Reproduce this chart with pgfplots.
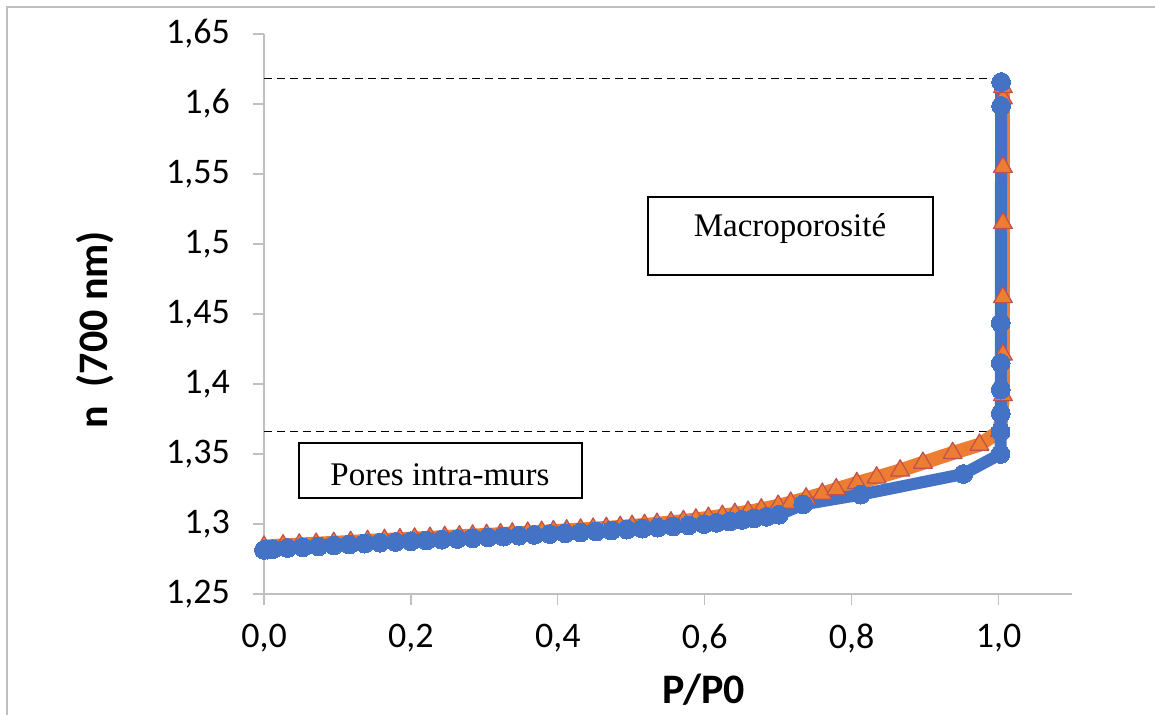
\documentclass[border=0pt]{standalone}
\usepackage{pgfplots}
\pgfplotsset{compat=1.18}
\usepackage{fontspec}
\setmainfont{Carlito}
\newfontfamily\boxfont{Liberation Serif}

\definecolor{serA}{HTML}{4472C4}
\definecolor{serB}{HTML}{ED7D31}
\definecolor{serBedge}{HTML}{C0504D}
\definecolor{axgray}{HTML}{BFBFBF}

\begin{document}
\begin{tikzpicture}
% page = 1155 x 715 px, 1 px = 0.5pt
\path[use as bounding box] (0,0) rectangle (577.5pt,-357.5pt);
\draw[axgray, line width=0.6pt] (3.5pt,-360pt) -- (3.5pt,-3.5pt) -- (580pt,-3.5pt);

\begin{axis}[
    at={(132pt,-297pt)}, anchor=south west,
    scale only axis, width=404pt, height=280pt,
    xmin=0, xmax=1.1, ymin=1.25, ymax=1.65,
    axis x line*=bottom, axis y line*=left,
    axis line style={draw=axgray, line width=0.6pt, -},
    xtick={0,0.2,0.4,0.6,0.8,1.0},
    ytick={1.25,1.3,1.35,1.4,1.45,1.5,1.55,1.6,1.65},
    tick align=outside, major tick length=5.5pt,
    tick style={draw=axgray, line width=0.6pt},
    tick label style={font=\fontsize{18}{20}\selectfont},
    /pgf/number format/assume math mode=true,
    /pgf/number format/use comma,
    xticklabel style={/pgf/number format/fixed, /pgf/number format/fixed zerofill, /pgf/number format/precision=1, yshift=-6pt},
    yticklabel style={/pgf/number format/fixed, /pgf/number format/precision=2, xshift=-8pt},
    clip=false,
]
% guide lines
\addplot[black, line width=0.5pt, dash pattern=on 4pt off 2.5pt] coordinates {(0,1.6179) (1.0,1.6179)};
\addplot[black, line width=0.5pt, dash pattern=on 4pt off 2.5pt] coordinates {(0,1.3664) (1.004,1.3664)};

% adsorption (orange, triangles)
\addplot[serB, line width=7pt, line join=round,
    mark=triangle*, mark size=5.4pt,
    mark options={fill=serB, draw=serBedge, line width=0.6pt}] coordinates {
(0.000,1.2838) (0.026,1.2847) (0.048,1.2853) (0.071,1.2859) (0.095,1.2865)
(0.118,1.2872) (0.141,1.2879) (0.164,1.2886) (0.185,1.2891) (0.205,1.2896)
(0.226,1.2901) (0.246,1.2907) (0.266,1.2912) (0.284,1.2917) (0.303,1.2922)
(0.322,1.2927) (0.338,1.2932) (0.359,1.2938) (0.378,1.2944) (0.394,1.2949)
(0.412,1.2954) (0.431,1.2960) (0.448,1.2966) (0.466,1.2972) (0.485,1.2979)
(0.501,1.2986) (0.518,1.2993) (0.535,1.3001) (0.554,1.3011) (0.571,1.3021)
(0.588,1.3032) (0.605,1.3044) (0.624,1.3058) (0.641,1.3072) (0.659,1.3087)
(0.677,1.3104) (0.700,1.3130) (0.717,1.3152) (0.738,1.3182) (0.760,1.3216)
(0.779,1.3248) (0.807,1.3292) (0.834,1.3332) (0.866,1.3382) (0.897,1.3437)
(0.9375,1.3507) (0.974,1.3566) (1.002,1.3664) (1.006,1.3920) (1.006,1.4210)
(1.006,1.4620) (1.006,1.5150) (1.006,1.5550) (1.006,1.6040) (1.006,1.6120)
};

% desorption (blue, circles)
\addplot[serA, line width=6pt, line join=round,
    mark=*, mark size=4.7pt,
    mark options={fill=serA, draw=serA, line width=0pt}] coordinates {
(0.000,1.2815) (0.005,1.2817) (0.012,1.2820) (0.032,1.2828) (0.053,1.2834)
(0.074,1.2840) (0.095,1.2847) (0.116,1.2853) (0.137,1.2860) (0.158,1.2866)
(0.179,1.2872) (0.200,1.2877) (0.221,1.2882) (0.242,1.2888) (0.263,1.2893)
(0.284,1.2898) (0.305,1.2904) (0.326,1.2910) (0.347,1.2916) (0.368,1.2922)
(0.389,1.2928) (0.410,1.2934) (0.431,1.2940) (0.452,1.2946) (0.473,1.2953)
(0.494,1.2960) (0.515,1.2967) (0.536,1.2974) (0.557,1.2982) (0.578,1.2990)
(0.599,1.2999) (0.616,1.3008) (0.634,1.3018) (0.651,1.3029) (0.667,1.3040)
(0.684,1.3052) (0.701,1.3066) (0.734,1.3140) (0.8125,1.3210) (0.952,1.3357)
(1.0027,1.3500) (1.0027,1.3660) (1.0030,1.3790) (1.0030,1.3960) (1.0030,1.4150)
(1.0030,1.4436) (1.0035,1.5986) (1.0035,1.6157)
};
\end{axis}

% annotation boxes
\draw[black, line width=0.7pt, fill=white] (324pt,-98.5pt) rectangle (466.5pt,-137.5pt);
\node[font=\boxfont\fontsize{16.5}{18}\selectfont] at (395pt,-114.5pt) {Macroporosité};
\draw[black, line width=0.7pt, fill=white] (149.5pt,-221.5pt) rectangle (291pt,-249pt);
\node[font=\boxfont\fontsize{16.5}{18}\selectfont] at (220pt,-237.5pt) {Pores intra-murs};

% axis titles
\node[font=\bfseries\fontsize{21}{24}\selectfont, rotate=90] at (47.5pt,-165pt) {n\ \ (700 nm)};
\node[font=\bfseries\fontsize{21}{24}\selectfont] at (352pt,-345pt) {P/P0};
\end{tikzpicture}
\end{document}
